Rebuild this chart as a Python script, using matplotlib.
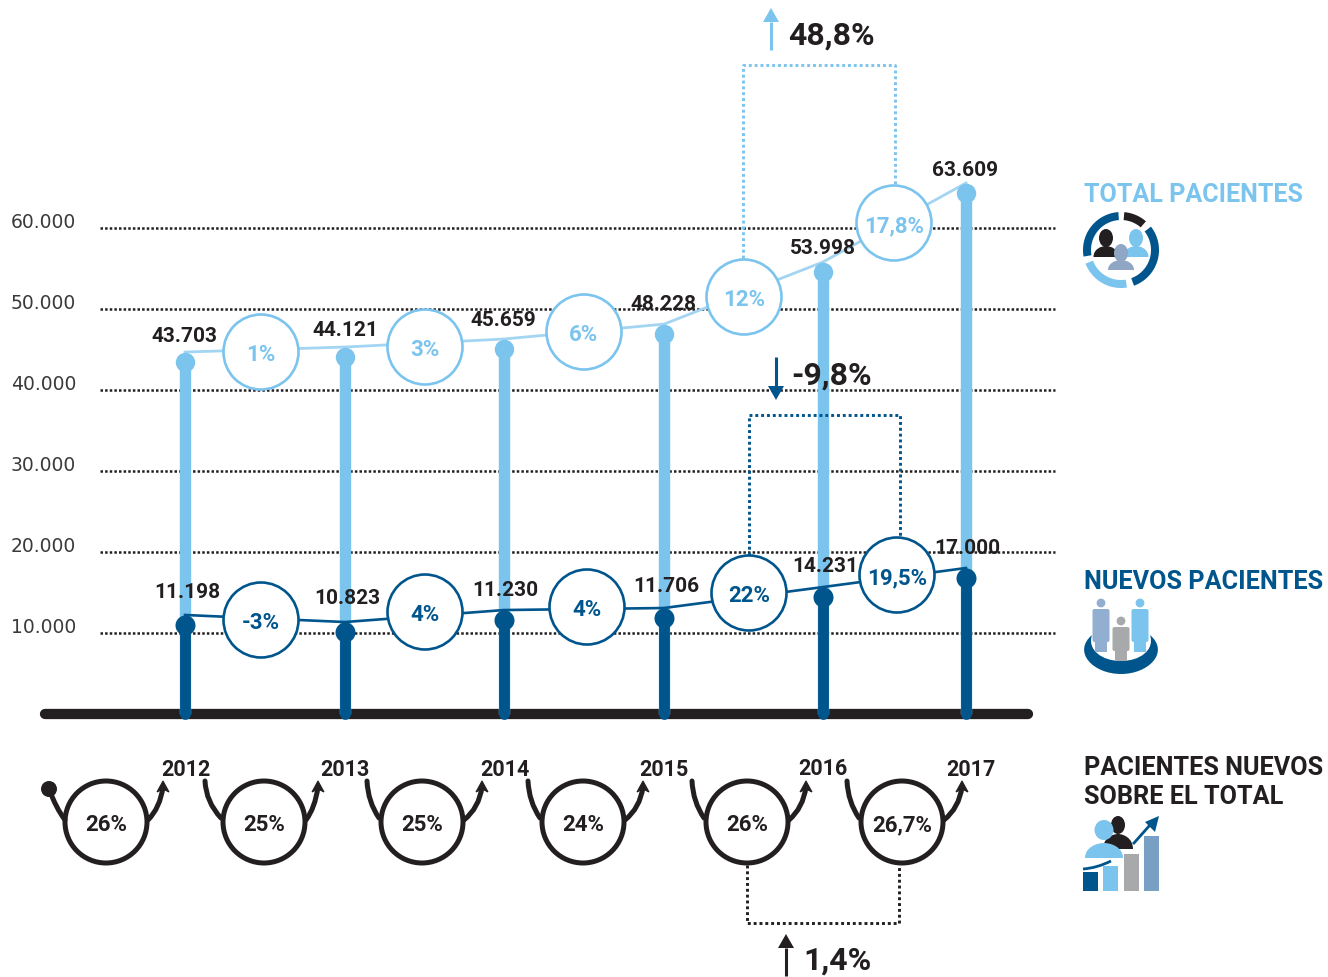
import numpy as np
import matplotlib
matplotlib.use("Agg")
import matplotlib.pyplot as plt
from matplotlib.patches import Circle, Ellipse, FancyBboxPatch, PathPatch, Polygon, Rectangle
from matplotlib.path import Path

plt.rcParams['font.family'] = ['Roboto', 'DejaVu Sans']

# Data
years = ['2012', '2013', '2014', '2015', '2016', '2017']
total_labels = ['43.703', '44.121', '45.659', '48.228', '53.998', '63.609']
new_labels = ['11.198', '10.823', '11.230', '11.706', '14.231', '17.000']
total_drawn = [43450, 44070, 45060, 46900, 54570, 64320]
new_drawn = [10990, 10120, 11600, 11850, 14440, 16790]
total_growth = ['1%', '3%', '6%', '12%', '17,8%']
new_growth = ['-3%', '4%', '4%', '22%', '19,5%']
new_share = ['26%', '25%', '25%', '24%', '26%', '26,7%']
grid_values = [10000, 20000, 30000, 40000, 50000, 60000]
grid_labels = ['10.000', '20.000', '30.000', '40.000', '50.000', '60.000']

# Colours
LIGHT = '#7bc4ee'
LIGHT_LINE = '#a3d5f3'
DARK = '#00558c'
BLACK = '#231f20'
GREY = '#a8a9ab'
SLATE = '#8fa6c4'
STEEL = '#7a9fc4'

# Layout (pixels)
W, H = 1328, 977
BASE_Y = 714
PX_PER_UNIT = 8.1 / 1000
bar_x = [185, 345, 504, 664, 823, 966]
total_label_pos = [(184, 334), (345, 328), (503, 318), (663, 302), (823, 247), (965, 168)]
new_label_pos = [(187, 590), (347, 596), (505, 588), (666, 585), (825, 564), (967, 547)]
total_circles = [(261, 352), (425, 347), (584, 332), (744, 297), (894, 223)]
new_circles = [(261, 620), (425, 612), (587, 607), (749, 593), (897, 575)]
share_x = [106, 264, 422, 583, 747, 902]
stem_x = [None, 205, 367, 528, 692, 847]
tip_x = [163, 318, 482, 643, 806, 962]
year_pos = [(186, 768), (345, 768), (505, 768), (664, 768), (823, 767), (971, 768)]
LINE_LIFT = 10 / PX_PER_UNIT  # connecting line runs along the top of the dots

fig = plt.figure(figsize=(W / 100, H / 100), dpi=100)

# Value axes: x in pixels, y in patients
ax = fig.add_axes([0, 0, 1, 1])
ax.set_xlim(0, W)
ax.set_ylim((BASE_Y - H) / PX_PER_UNIT, BASE_Y / PX_PER_UNIT)
ax.axis('off')

# Pixel axes for everything that is annotation
deco = fig.add_axes([0, 0, 1, 1])
deco.set_xlim(0, W)
deco.set_ylim(H, 0)
deco.axis('off')
deco.patch.set_alpha(0)

# Grid
for value, label in zip(grid_values, grid_labels):
    ax.plot([100, 1055], [value, value], color=BLACK, lw=1.8,
            linestyle=(0, (1, 0.85)), dash_capstyle='butt', zorder=1)
    ax.annotate(label, (11, value), xytext=(0, 4.3), textcoords='offset points',
                family='DejaVu Sans', fontsize=13.5, color='#3a3a3c',
                ha='left', va='center')

# Bars, dots, connecting lines
ax.plot([45, 1028], [0, 0], color=BLACK, lw=7.4, solid_capstyle='round', zorder=2)
ax.plot(bar_x, np.array(total_drawn) + LINE_LIFT, color=LIGHT_LINE, lw=2, zorder=2)
for x, t in zip(bar_x, total_drawn):
    ax.plot([x, x], [0, t], color=LIGHT, lw=8.2, solid_capstyle='butt', zorder=3)
    ax.plot([x], [t], 'o', color=LIGHT, ms=14, mew=0, zorder=3)
ax.plot(bar_x, np.array(new_drawn) + LINE_LIFT, color=DARK, lw=1.9, zorder=4)
for x, n in zip(bar_x, new_drawn):
    ax.plot([x, x], [0, n], color=DARK, lw=7.8, solid_capstyle='round', zorder=5)
    ax.plot([x], [n], 'o', color=DARK, ms=14.4, mew=0, zorder=5)


def ptext(x, y, s, size, color=BLACK, ha='center', weight='bold'):
    deco.text(x, y + 2, s, fontsize=size, color=color, ha=ha, va='center',
              fontweight=weight, zorder=20)


def bracket(points, color):
    xs, ys = zip(*points)
    deco.plot(xs, ys, color=color, lw=2.1, linestyle=(0, (1, 1)),
              dash_capstyle='butt', zorder=8)


def straight_arrow(x, tail, tip, color, head_w=16, head_l=14):
    step = head_l if tip > tail else -head_l
    deco.plot([x, x], [tail, tip - step], color=color, lw=2.2, solid_capstyle='butt', zorder=9)
    deco.add_patch(Polygon([(x - head_w / 2, tip - step), (x + head_w / 2, tip - step), (x, tip)],
                           closed=True, fc=color, ec='none', zorder=9))


def stem(p0, ctrl, p1):
    path = Path([p0, ctrl, p1], [Path.MOVETO, Path.CURVE3, Path.CURVE3])
    deco.add_patch(PathPatch(path, fc='none', ec=BLACK, lw=3.6, capstyle='round', zorder=9))


def arc(cx, cy, r, width, a0, a1, color):
    # angles counted as on screen, counter-clockwise from the right
    angles = np.radians(np.linspace(a0, a1, 40))
    outer = np.c_[cx + r * np.cos(angles), cy - r * np.sin(angles)]
    inner = np.c_[cx + (r - width) * np.cos(angles[::-1]), cy - (r - width) * np.sin(angles[::-1])]
    deco.add_patch(Polygon(np.vstack([outer, inner]), closed=True, fc=color, ec='none', zorder=10))


def bust(cx, head_y, head_rx, head_ry, half_w, top, bottom, color, z=11):
    deco.add_patch(Ellipse((cx, head_y), head_rx * 2, head_ry * 2, fc=color, ec='none', zorder=z))
    verts = [(cx - half_w, bottom), (cx - half_w, top + (bottom - top) * 0.3), (cx - half_w * 0.4, top),
             (cx, top), (cx + half_w * 0.4, top), (cx + half_w, top + (bottom - top) * 0.3),
             (cx + half_w, bottom), (cx - half_w, bottom)]
    codes = [Path.MOVETO, Path.CURVE4, Path.CURVE4, Path.CURVE4, Path.CURVE4, Path.CURVE4,
             Path.CURVE4, Path.CLOSEPOLY]
    deco.add_patch(PathPatch(Path(verts, codes), fc=color, ec='none', zorder=z))


def figure_icon(cx, head_y, top, bottom, half_w, color):
    deco.add_patch(Circle((cx, head_y), 4.4, fc=color, ec='none', zorder=11))
    deco.add_patch(FancyBboxPatch((cx - half_w + 2, top + 2), half_w * 2 - 4, bottom - top - 14,
                                  boxstyle='round,pad=2', fc=color, ec='none', zorder=11))
    deco.add_patch(Rectangle((cx - half_w * 0.68, bottom - 14), half_w * 1.36, 14, fc=color, ec='none',
                             zorder=11))


# Data labels
for (x, y), s in zip(total_label_pos, total_labels):
    ptext(x, y, s, 15)
for (x, y), s in zip(new_label_pos, new_labels):
    ptext(x, y, s, 15)

# Growth circles
for centres, labels, color in [(total_circles, total_growth, LIGHT), (new_circles, new_growth, DARK)]:
    for (x, y), s in zip(centres, labels):
        deco.add_patch(Circle((x, y), 37.5, fc='white', ec=color, lw=1.9, zorder=7))
        ptext(x, y + 1, s, 16, color=color)

# Brackets with arrows and totals
bracket([(743, 258), (743, 65), (895, 65), (895, 184)], LIGHT)
straight_arrow(771, 50, 8, LIGHT)
ptext(788, 34, '48,8%', 23, ha='left')

bracket([(749, 555), (749, 415), (900, 415), (900, 537)], DARK)
straight_arrow(776, 357, 400, DARK)
ptext(791, 374, '-9,8%', 23, ha='left')

bracket([(747, 865), (747, 923), (899, 923), (899, 865)], BLACK)
straight_arrow(786, 976, 934, BLACK)
ptext(803, 959, '1,4%', 23, ha='left')

# Share of new patients row
deco.add_patch(Circle((49, 789), 8, fc=BLACK, ec='none', zorder=9))
stem((49, 789), (56, 808), (65, 820))
for i, (cx, s) in enumerate(zip(share_x, new_share)):
    deco.add_patch(Circle((cx, 822), 41, fc='white', ec=BLACK, lw=3.6, zorder=8))
    ptext(cx, 823, s, 16)
    if stem_x[i] is not None:
        stem((stem_x[i], 781), (stem_x[i] + 1, 802), (cx - 43, 818))
    tip = tip_x[i]
    stem((cx + 42, 820), (tip - 3, 808), (tip, 787))
    deco.add_patch(Polygon([(tip, 781), (tip + 6, 792), (tip, 789), (tip - 6, 792)], closed=True,
                           fc=BLACK, ec=BLACK, lw=0.8, zorder=10))
for (x, y), s in zip(year_pos, years):
    ptext(x, y, s, 15.5)

# Legend: total
ptext(1084, 193, 'TOTAL PACIENTES', 18.1, color=LIGHT, ha='left')
arc(1121, 250, 38, 8, 190, 94, DARK)
arc(1121, 250, 38, 8, 85, 49, BLACK)
arc(1121, 250, 38, 8, 38, -70, DARK)
arc(1121, 250, 38, 8, -81, -159, LIGHT)
bust(1106, 238, 7, 9, 12.5, 246, 257, BLACK)
bust(1136, 238, 7, 9, 12.5, 246, 257, LIGHT)
bust(1121, 253, 7, 9, 13, 260, 270, SLATE, z=12)

# Legend: new
ptext(1084, 580, 'NUEVOS PACIENTES', 18.2, color=DARK, ha='left')
verts = [(1092, 635), (1072, 652), (1093, 674), (1121, 674), (1149, 674), (1170, 652), (1150, 635),
         (1155, 650), (1140, 661), (1121, 661), (1102, 661), (1087, 650), (1092, 635)]
codes = [Path.MOVETO] + [Path.CURVE4] * 12
deco.add_patch(PathPatch(Path(verts, codes), fc=DARK, ec='none', zorder=10))
figure_icon(1101, 603, 609, 652, 8.5, '#92afd1')
figure_icon(1140, 603, 609, 652, 8.5, LIGHT)
figure_icon(1121, 621, 627, 661, 8.5, GREY)

# Legend: share
ptext(1084, 766, 'PACIENTES NUEVOS', 18.2, ha='left')
ptext(1084, 795, 'SOBRE EL TOTAL', 18.2, ha='left')
for x, top, color in [(1083, 872, DARK), (1103, 866, LIGHT), (1124, 854, GREY), (1144, 836, STEEL)]:
    deco.add_patch(Rectangle((x, top), 15, 891 - top, fc=color, ec='none', zorder=10))
bust(1118, 825, 7, 9, 15, 834, 849, BLACK, z=11)
bust(1104, 830, 9.5, 10, 19, 843, 858, LIGHT, z=12)
deco.add_patch(PathPatch(Path([(1083, 869), (1097, 868), (1111, 861)], [Path.MOVETO, Path.CURVE3, Path.CURVE3]),
                         fc='none', ec=DARK, lw=2, zorder=12))
deco.plot([1134, 1150], [843, 825], color=DARK, lw=2, zorder=10)
deco.add_patch(Polygon([(1159, 816), (1155, 832), (1145, 822)], closed=True, fc=DARK, ec='none', zorder=10))

fig.savefig('out.png', dpi=100, facecolor='white')
